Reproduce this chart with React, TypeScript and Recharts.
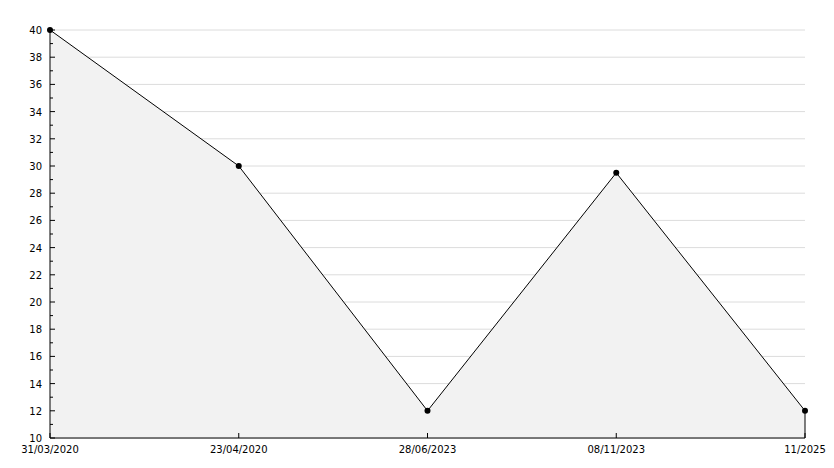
import { AreaChart, Area, XAxis, YAxis, CartesianGrid, ReferenceLine } from 'recharts'

const categories = ['31/03/2020', '23/04/2020', '28/06/2023', '08/11/2023', '11/2025']
const values = [40, 30, 12, 29.5, 12]
const allTicks = [10, 11, 12, 13, 14, 15, 16, 17, 18, 19, 20, 21, 22, 23, 24, 25, 26, 27, 28, 29, 30, 31, 32, 33, 34, 35, 36, 37, 38, 39, 40]
const majorTicks = [10, 12, 14, 16, 18, 20, 22, 24, 26, 28, 30, 32, 34, 36, 38, 40]

const data = categories.map((name, i) => ({ name, value: values[i] }))

const FONT = '"DejaVu Sans", sans-serif'

function YTick(props: any) {
  const { x, y, payload } = props
  const major = majorTicks.includes(payload.value)
  return (
    <g>
      <line x1={x} x2={x + (major ? 5 : 3)} y1={y} y2={y} stroke="#000" />
      {major && (
        <text x={x - 8} y={y + 4} textAnchor="end" fontSize={10} fontFamily={FONT} fill="#000">
          {payload.value}
        </text>
      )}
    </g>
  )
}

function XTick(props: any) {
  const { x, y, payload } = props
  return (
    <g>
      <line x1={x} x2={x} y1={y} y2={y - 5} stroke="#000" />
      <text x={x} y={y + 15} textAnchor="middle" fontSize={10} fontFamily={FONT} fill="#000">
        {payload.value}
      </text>
    </g>
  )
}

function Dot(props: any) {
  const { cx, cy } = props
  if (cx == null || cy == null) return null
  return <circle cx={cx} cy={cy} r={3} fill="#000" />
}

export default function App() {
  return (
    <div style={{ position: 'absolute', left: 0, top: 0, width: 834, height: 468, background: '#fff' }}>
      <AreaChart width={834} height={468} data={data} margin={{ top: 30, right: 29, bottom: 0, left: 0 }}>
        <CartesianGrid vertical={false} horizontalValues={majorTicks} stroke="#dcdcdc" />
        <XAxis
          dataKey="name"
          height={30}
          tick={<XTick />}
          tickLine={false}
          tickSize={0}
          tickMargin={0}
          interval={0}
          axisLine={{ stroke: '#000' }}
        />
        <YAxis
          width={50}
          domain={[10, 40]}
          ticks={allTicks}
          interval={0}
          tick={<YTick />}
          tickLine={false}
          tickSize={0}
          tickMargin={0}
          axisLine={{ stroke: '#000' }}
        />
        <Area
          type="linear"
          dataKey="value"
          baseValue={10}
          stroke="#000"
          strokeWidth={1}
          fill="#f2f2f2"
          fillOpacity={1}
          dot={<Dot />}
          activeDot={false}
          isAnimationActive={false}
        />
        <ReferenceLine
          segment={[{ x: '11/2025', y: 10 }, { x: '11/2025', y: 12 }]}
          stroke="#000"
        />
      </AreaChart>
    </div>
  )
}
